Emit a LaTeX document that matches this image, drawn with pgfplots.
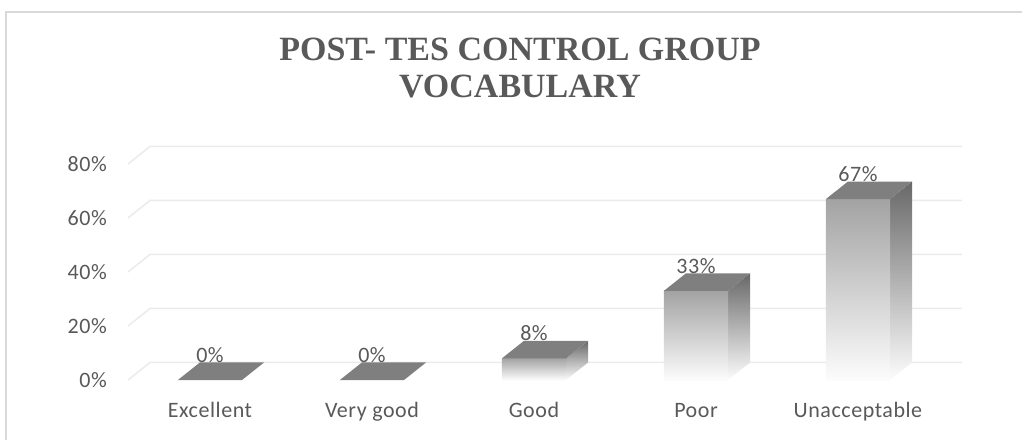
\documentclass[border=0pt]{standalone}
\usepackage{pgfplots}
\pgfplotsset{compat=1.18}
\usepackage{fontspec}
\setmainfont{Carlito}[LetterSpace=2.5]
\newfontfamily\titlefont{Liberation Serif}
\definecolor{txt}{HTML}{595959}
\definecolor{gridc}{HTML}{EBEBEB}
\definecolor{frontc}{HTML}{A3A3A3}
\definecolor{topc}{HTML}{7F7F7F}
\definecolor{sidec}{HTML}{686868}
\definecolor{fadec}{HTML}{FCFCFC}
\definecolor{borderc}{HTML}{D9D9D9}

\begin{document}
\begin{tikzpicture}
\path[use as bounding box] (0pt,0pt) rectangle (1022pt,439pt);
\draw[borderc, line width=1.2pt] (6pt,-5pt) -- (6pt,427pt) -- (1030pt,427pt);
\node[anchor=base, text=txt, font=\titlefont\bfseries\fontsize{34}{39}\selectfont, inner sep=0pt] at (520pt,378pt) {POST- TES CONTROL GROUP};
\node[anchor=base, text=txt, font=\titlefont\bfseries\fontsize{34}{39}\selectfont, inner sep=0pt] at (520pt,341pt) {VOCABULARY};
\begin{axis}[
  at={(128pt,59pt)}, anchor=south west,
  x=162pt, y=2.7pt,
  xmin=-0.506, xmax=4.642, ymin=0, ymax=86.5,
  clip=false,
  axis line style={draw=none},
  major tick length=0pt,
  xtick={0,1,2,3,4},
  xticklabels={Excellent, Very good, Good, Poor, Unacceptable},
  ytick={0,20,40,60,80},
  yticklabels={0\%,20\%,40\%,60\%,80\%},
  ticklabel style={font=\fontsize{22}{26}\selectfont, text=txt, inner sep=0pt},
  xticklabel style={anchor=base, yshift=-37pt},
  yticklabel style={anchor=east, xshift=-21pt},
]
% gridlines (left wall + back wall)
\addplot[gridc, line width=1.5pt] coordinates {(-0.506,0) (-0.370,6.5) (4.642,6.5)};
\addplot[gridc, line width=1.5pt] coordinates {(-0.506,20) (-0.370,26.5) (4.642,26.5)};
\addplot[gridc, line width=1.5pt] coordinates {(-0.506,40) (-0.370,46.5) (4.642,46.5)};
\addplot[gridc, line width=1.5pt] coordinates {(-0.506,60) (-0.370,66.5) (4.642,66.5)};
\addplot[gridc, line width=1.5pt] coordinates {(-0.506,80) (-0.370,86.5) (4.642,86.5)};
% Excellent (0%)
\addplot[draw=none, fill=topc] coordinates {(-0.198,0) (0.198,0) (0.334,6.5) (-0.062,6.5)};
% Very good (0%)
\addplot[draw=none, fill=topc] coordinates {(0.802,0) (1.198,0) (1.334,6.5) (0.938,6.5)};
% Good (8%)
\addplot[draw=none, top color=sidec, middle color=sidec, bottom color=fadec] coordinates {(2.198,0) (2.334,6.5) (2.334,14.5) (2.198,8)};
\addplot[draw=none, top color=frontc, middle color=frontc, bottom color=fadec] coordinates {(1.802,0) (2.198,0) (2.198,8) (1.802,8)};
\addplot[draw=none, fill=topc] coordinates {(1.802,8) (2.198,8) (2.334,14.5) (1.938,14.5)};
% Poor (33%)
\addplot[draw=none, top color=sidec, middle color=sidec, bottom color=fadec] coordinates {(3.198,0) (3.334,6.5) (3.334,39.5) (3.198,33)};
\addplot[draw=none, top color=frontc, middle color=frontc, bottom color=fadec] coordinates {(2.802,0) (3.198,0) (3.198,33) (2.802,33)};
\addplot[draw=none, fill=topc] coordinates {(2.802,33) (3.198,33) (3.334,39.5) (2.938,39.5)};
% Unacceptable (67%)
\addplot[draw=none, top color=sidec, middle color=sidec, bottom color=fadec] coordinates {(4.198,0) (4.334,6.5) (4.334,73.5) (4.198,67)};
\addplot[draw=none, top color=frontc, middle color=frontc, bottom color=fadec] coordinates {(3.802,0) (4.198,0) (4.198,67) (3.802,67)};
\addplot[draw=none, fill=topc] coordinates {(3.802,67) (4.198,67) (4.334,73.5) (3.938,73.5)};
% data labels
\addplot[draw=none, mark=none, nodes near coords, point meta=explicit symbolic,
  every node near coord/.append style={anchor=base, inner sep=0pt, text=txt, font=\fontsize{22}{26}\selectfont}]
  coordinates {(0,6.5) [0\%] (1,6.5) [0\%] (2,14.5) [8\%] (3,39.5) [33\%] (4,73.5) [67\%]};
\end{axis}
\end{tikzpicture}
\end{document}
